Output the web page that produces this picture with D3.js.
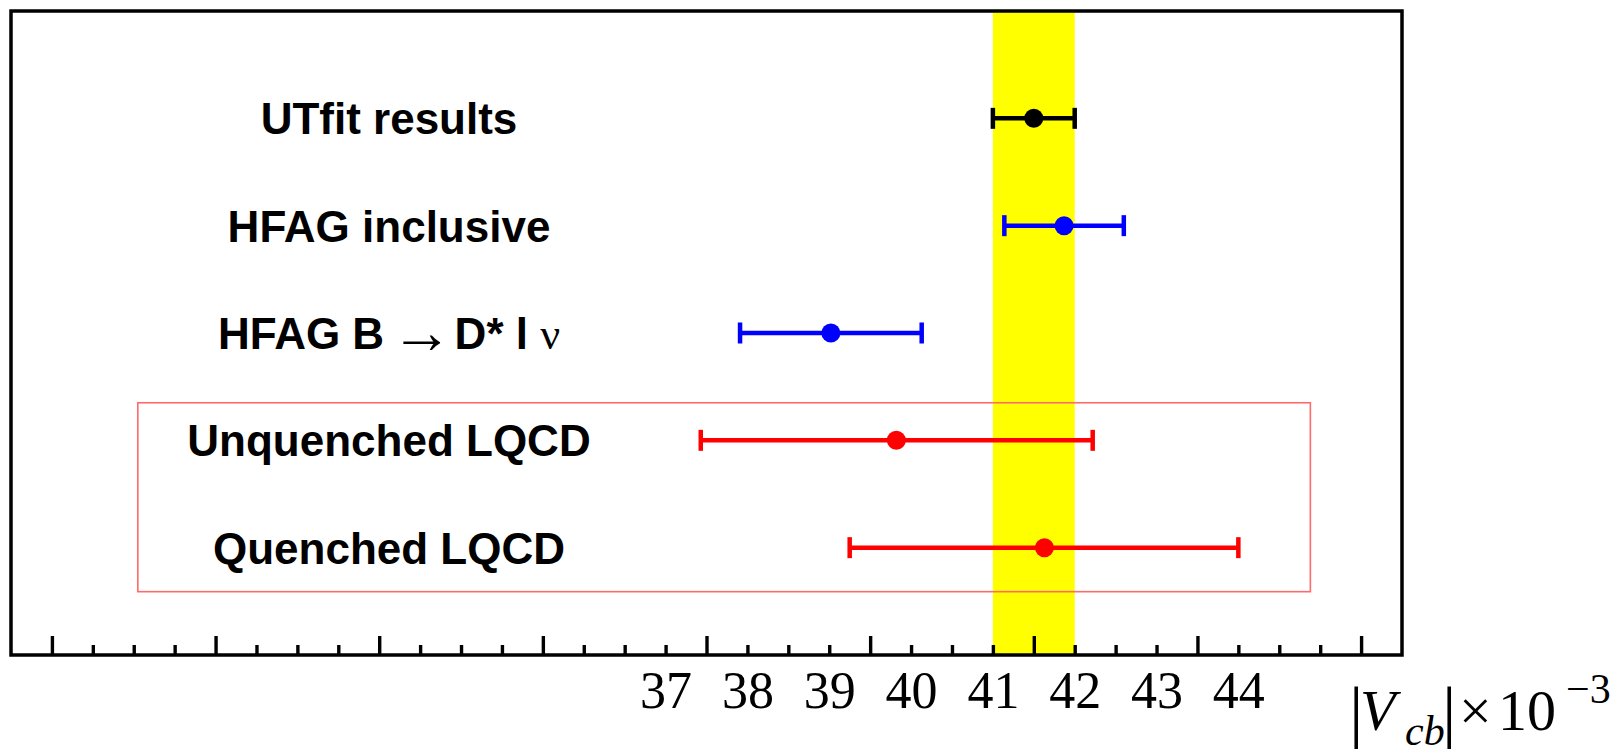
<!DOCTYPE html>
<html>
<head>
<meta charset="utf-8">
<script src="https://cdn.jsdelivr.net/npm/d3@7"></script>
<style>
  html, body { margin: 0; padding: 0; background: #ffffff; }
  svg { display: block; }
</style>
</head>
<body>
<svg id="chart" width="1620" height="749"></svg>
<script>
// ---------------- data ----------------
const categories = ["UTfit results", "HFAG inclusive", "HFAG B \u2192 D* l \u03bd", "Unquenched LQCD", "Quenched LQCD"];
const rowPositions = [5, 4, 3, 2, 1];
const centralValues = [41.50, 41.87, 39.02, 39.82, 41.63];
const errLow  = [0.50, 0.73, 1.11, 2.39, 2.38];
const errHigh = [0.50, 0.73, 1.11, 2.40, 2.37];
const seriesColors = ["#000000", "#0000ff", "#0000ff", "#ff0000", "#ff0000"];
const bandRange = [41.0, 42.0];
const tickLabelValues = [37, 38, 39, 40, 41, 42, 43, 44];
const majorTickValues = [29.5, 31.5, 33.5, 35.5, 37.5, 39.5, 41.5, 43.5, 45.5];
const xDomain = [29, 46];
const yDomain = [0, 6];
const lqcdBoxX = [30.55, 44.88];
const lqcdBoxY = [0.59, 2.35];

// ---------------- layout ----------------
const svg = d3.select("#chart");
const frame = { left: 11, right: 1402, top: 11, bottom: 655 };
const x = d3.scaleLinear().domain(xDomain).range([frame.left, frame.right]);
const y = d3.scaleLinear().domain(yDomain).range([frame.bottom, frame.top]);

const minorTickValues = d3.range(30, 46, 0.5).filter(v => !majorTickValues.includes(v));

// yellow band
svg.append("rect")
  .attr("x", x(bandRange[0]))
  .attr("y", frame.top)
  .attr("width", x(bandRange[1]) - x(bandRange[0]))
  .attr("height", frame.bottom - frame.top)
  .attr("fill", "#ffff00");

// LQCD box
svg.append("rect")
  .attr("x", x(lqcdBoxX[0]))
  .attr("y", y(lqcdBoxY[1]))
  .attr("width", x(lqcdBoxX[1]) - x(lqcdBoxX[0]))
  .attr("height", y(lqcdBoxY[0]) - y(lqcdBoxY[1]))
  .attr("fill", "none")
  .attr("stroke", "#ff6a6a")
  .attr("stroke-width", 1.6);

// error bars + markers
const rows = categories.map((c, i) => ({
  name: c, row: rowPositions[i], v: centralValues[i],
  lo: centralValues[i] - errLow[i], hi: centralValues[i] + errHigh[i], color: seriesColors[i]
}));

const g = svg.append("g");
rows.forEach(d => {
  const yy = y(d.row);
  g.append("line")
    .attr("x1", x(d.lo)).attr("x2", x(d.hi))
    .attr("y1", yy).attr("y2", yy)
    .attr("stroke", d.color).attr("stroke-width", 4.5);
  [d.lo, d.hi].forEach(e => {
    g.append("line")
      .attr("x1", x(e)).attr("x2", x(e))
      .attr("y1", yy - 10.5).attr("y2", yy + 10.5)
      .attr("stroke", d.color).attr("stroke-width", 4.5);
  });
  g.append("circle")
    .attr("cx", x(d.v)).attr("cy", yy).attr("r", 9.5)
    .attr("fill", d.color);
});

// category labels
const labelX = 389;
const sans = "'Liberation Sans', Arial, Helvetica, sans-serif";
const serif = "'Liberation Serif', 'Times New Roman', Times, serif";
rows.forEach((d, i) => {
  const t = svg.append("text")
    .attr("x", labelX)
    .attr("y", y(d.row) + 16)
    .attr("text-anchor", "middle")
    .attr("font-family", sans)
    .attr("font-weight", "bold")
    .attr("font-size", 44)
    .attr("fill", "#000");
  if (d.name.includes("\u2192")) {
    t.append("tspan").text("HFAG B ");
    t.append("tspan").attr("font-family", serif).attr("font-weight", "normal")
      .attr("font-size", 62).attr("dy", 4).attr("dx", -6).text("\u2192");
    t.append("tspan").attr("dy", -4).attr("dx", -10).text(" D* l ");
    t.append("tspan").attr("font-family", serif).attr("font-weight", "normal").text("\u03bd");
  } else {
    t.text(d.name);
  }
});

// frame
svg.append("rect")
  .attr("x", frame.left).attr("y", frame.top)
  .attr("width", frame.right - frame.left)
  .attr("height", frame.bottom - frame.top)
  .attr("fill", "none").attr("stroke", "#000").attr("stroke-width", 3.5);

// ticks (axis generator, ticks pointing up into the frame)
const majorAxis = d3.axisTop(x).tickValues(majorTickValues).tickSize(19).tickFormat("");
const minorAxis = d3.axisTop(x).tickValues(minorTickValues).tickSize(10).tickFormat("");
[majorAxis, minorAxis].forEach(ax => {
  const a = svg.append("g").attr("transform", `translate(0,${frame.bottom})`).call(ax);
  a.select(".domain").remove();
  a.selectAll("line").attr("stroke", "#000").attr("stroke-width", 3.4);
});

// tick labels
const labelAxis = d3.axisBottom(x).tickValues(tickLabelValues).tickSize(0).tickPadding(0).tickFormat(d3.format("d"));
const la = svg.append("g").attr("transform", `translate(0,${frame.bottom})`).call(labelAxis);
la.select(".domain").remove();
la.selectAll("text")
  .attr("font-family", serif)
  .attr("font-size", 52)
  .attr("fill", "#000")
  .attr("dy", null)
  .attr("y", 53);

// axis title |V_cb| x 10^-3
const tBase = 730;
function txt(xp, yp, s, size, italic) {
  svg.append("text").attr("x", xp).attr("y", yp)
    .attr("font-family", serif).attr("font-size", size)
    .attr("font-style", italic ? "italic" : "normal")
    .attr("fill", "#000").text(s);
}
txt(1349, 737, "|", 72, false);
txt(1360, tBase, "V", 58, true);
txt(1405, 745, "cb", 42, true);
txt(1442, 737, "|", 72, false);
txt(1459, tBase, "\u00d7", 58, false);
txt(1498, tBase, "10", 58, false);
txt(1566, 703, "\u22123", 42, false);
</script>
</body>
</html>
